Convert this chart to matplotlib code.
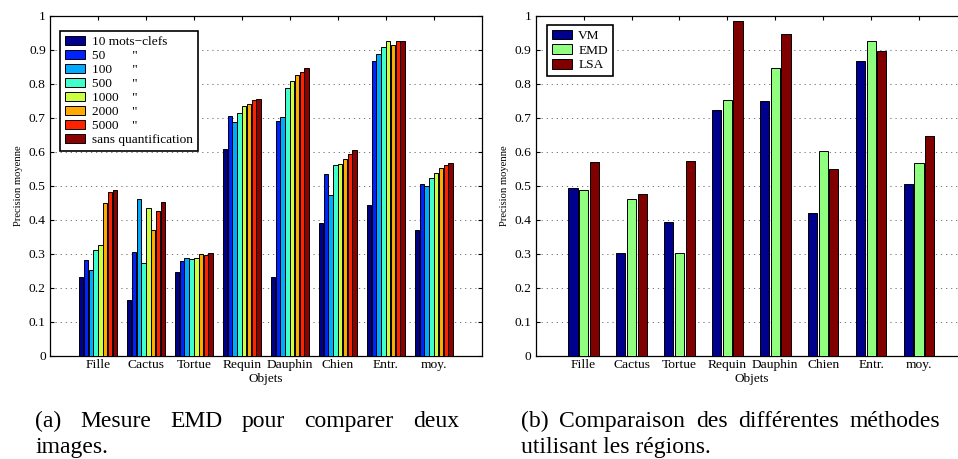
import matplotlib
matplotlib.use('Agg')
import matplotlib.pyplot as plt
import numpy as np
from matplotlib.font_manager import FontProperties

plt.rcParams['font.family'] = ['Liberation Serif', 'DejaVu Serif']

# ---------------- data ----------------
categories = ['Fille', 'Cactus', 'Tortue', 'Requin', 'Dauphin', 'Chien', 'Entr.', 'moy.']

# (a) EMD, number of keywords
q10    = [0.231, 0.164, 0.246, 0.608, 0.233, 0.391, 0.444, 0.370]
q50    = [0.281, 0.305, 0.280, 0.704, 0.692, 0.534, 0.867, 0.505]
q100   = [0.252, 0.462, 0.287, 0.687, 0.701, 0.474, 0.887, 0.499]
q500   = [0.311, 0.273, 0.284, 0.715, 0.787, 0.561, 0.908, 0.522]
q1000  = [0.325, 0.435, 0.289, 0.734, 0.807, 0.563, 0.925, 0.539]
q2000  = [0.450, 0.369, 0.301, 0.741, 0.825, 0.578, 0.914, 0.551]
q5000  = [0.483, 0.427, 0.298, 0.752, 0.834, 0.593, 0.925, 0.561]
q_sans = [0.488, 0.453, 0.303, 0.754, 0.845, 0.604, 0.925, 0.566]
quant_series = [q10, q50, q100, q500, q1000, q2000, q5000, q_sans]
quant_labels = ['10 mots\u2212clefs', '50        "', '100      "', '500      "',
                '1000    "', '2000    "', '5000    "', 'sans quantification']
quant_colors = ['#00008f', '#0022ff', '#00aaff', '#40ffcc',
                '#ccff40', '#ffaa00', '#ff2200', '#8b0000']

# (b) methods
vm  = [0.493, 0.302, 0.393, 0.724, 0.750, 0.420, 0.867, 0.504]
emd = [0.488, 0.462, 0.302, 0.753, 0.845, 0.603, 0.925, 0.566]
lsa = [0.569, 0.476, 0.573, 0.985, 0.946, 0.550, 0.895, 0.646]
method_series = [vm, emd, lsa]
method_labels = ['VM', 'EMD', 'LSA']
method_colors = ['#00008f', '#90ff80', '#800000']

ytick_vals = [0, 0.1, 0.2, 0.3, 0.4, 0.5, 0.6, 0.7, 0.8, 0.9, 1]
ytick_labels = ['0', '0.1', '0.2', '0.3', '0.4', '0.5', '0.6', '0.7', '0.8', '0.9', '1']

# ---------------- figure ----------------
W, H = 958, 459
fig = plt.figure(figsize=(W / 100, H / 100), dpi=100)


def axrect(l, t, r, b):
    return [l / W, 1 - b / H, (r - l) / W, (b - t) / H]


ax1 = fig.add_axes(axrect(50, 15.7, 481.7, 356))
ax2 = fig.add_axes(axrect(535.7, 15.7, 967, 356))

x = np.arange(1, len(categories) + 1)

# left grouped bars
n1 = len(quant_series)
slot1 = 0.8 / n1
for i, (vals, lab, col) in enumerate(zip(quant_series, quant_labels, quant_colors)):
    ax1.bar(x + (i - (n1 - 1) / 2) * slot1, vals, width=slot1 * 0.92, color=col,
            edgecolor='black', linewidth=0.7, label=lab, zorder=3)

# right grouped bars
n2 = len(method_series)
slot2 = 0.667 / n2
for i, (vals, lab, col) in enumerate(zip(method_series, method_labels, method_colors)):
    ax2.bar(x + (i - (n2 - 1) / 2) * slot2, vals, width=slot2 * 0.86, color=col,
            edgecolor='black', linewidth=0.7, label=lab, zorder=3)

for ax in (ax1, ax2):
    ax.set_xlim(0, 9)
    ax.set_ylim(0, 1)
    ax.set_xticks(x)
    ax.set_xticklabels(categories)
    ax.set_yticks(ytick_vals)
    ax.set_yticklabels(ytick_labels)
    ax.tick_params(direction='in', top=True, right=True, length=3, width=0.8,
                   labelsize=9.7, color='black')
    ax.tick_params(axis='y', pad=3)
    ax.tick_params(axis='x', pad=2.5)
    for s in ax.spines.values():
        s.set_linewidth(0.9)
        s.set_color('black')
    ax.yaxis.grid(True, linestyle=(0, (1.3, 3.9)), color='#777777', linewidth=0.7)
    ax.set_axisbelow(True)
    ax.set_xlabel('Objets', fontsize=9.5, labelpad=1)
    ax.set_ylabel('Precision moyenne', fontsize=7.6)

ax1.yaxis.set_label_coords(-(50 - 23) / 431.7, 0.5)
ax2.yaxis.set_label_coords(-(535.7 - 508.7) / 431.3, 0.5)

legprop = FontProperties(family='Liberation Serif', size=9.6)
leg1 = ax1.legend(loc='upper left', bbox_to_anchor=(60 / W, 1 - 31 / H),
                  bbox_transform=fig.transFigure, borderaxespad=0, frameon=True,
                  fancybox=False, edgecolor='black', framealpha=1, prop=legprop,
                  handlelength=1.5, handleheight=0.7, handletextpad=0.55,
                  labelspacing=0.12, borderpad=0.38)
leg1.get_frame().set_linewidth(1.2)

leg2 = ax2.legend(loc='upper left', bbox_to_anchor=(547 / W, 1 - 25 / H),
                  bbox_transform=fig.transFigure, borderaxespad=0, frameon=True,
                  fancybox=False, edgecolor='black', framealpha=1, prop=legprop,
                  handlelength=1.5, handleheight=0.75, handletextpad=0.5,
                  labelspacing=0.15, borderpad=0.35)
leg2.get_frame().set_linewidth(1.2)

# ---------------- captions (justified) ----------------
renderer = fig.canvas.get_renderer()


def justify(words, x0, x1, ypx, size):
    texts = [fig.text(0, 1 - ypx / H, w, fontsize=size, va='baseline', ha='left')
             for w in words]
    widths = [t.get_window_extent(renderer).width for t in texts]
    gap = (x1 - x0 - sum(widths)) / max(len(words) - 1, 1)
    xx = x0
    for t, w in zip(texts, widths):
        t.set_x(xx / W)
        xx += w + gap


cap_size = 17
justify(['(a)', 'Mesure', 'EMD', 'pour', 'comparer', 'deux'], 35, 459, 427, cap_size)
fig.text(35 / W, 1 - 453.5 / H, 'images.', fontsize=cap_size, va='baseline', ha='left')

justify(['(b)', 'Comparaison', 'des', 'différentes', 'méthodes'], 521.3, 939.7, 427, cap_size)
fig.text(521.3 / W, 1 - 453.5 / H, 'utilisant les régions.', fontsize=cap_size,
         va='baseline', ha='left')

fig.savefig('out.png', dpi=100)
